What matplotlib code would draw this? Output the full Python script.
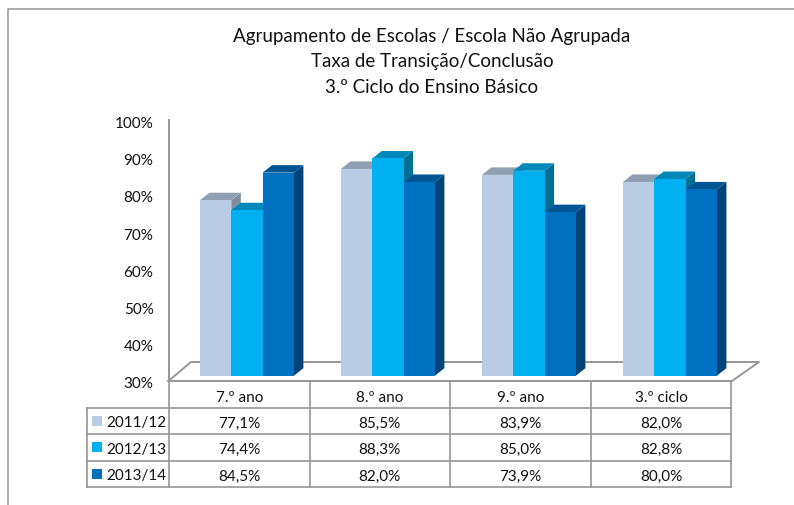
import numpy as np
import matplotlib
matplotlib.use("Agg")
import matplotlib.pyplot as plt
from matplotlib.patches import Polygon, Rectangle

plt.rcParams['font.family'] = ['Lato', 'DejaVu Sans']

categories = ["7.º ano", "8.º ano", "9.º ano", "3.º ciclo"]
years = ["2011/12", "2012/13", "2013/14"]
v_2011 = [77.1, 85.5, 83.9, 82.0]
v_2012 = [74.4, 88.3, 85.0, 82.8]
v_2013 = [84.5, 82.0, 73.9, 80.0]
series = [v_2011, v_2012, v_2013]
yticks = [30, 40, 50, 60, 70, 80, 90, 100]

front = ["#B8CCE4", "#00B0F0", "#0070C0"]
top = ["#8F9FB1", "#0088BA", "#005595"]
side = ["#7E8C9E", "#006F96", "#00447A"]
GREY = "#969696"
TXT = "#111111"

W, H = 794, 506
fig = plt.figure(figsize=(W / 100, H / 100), dpi=100)

# pixel layer for the frame, floor and table
px = fig.add_axes([0, 0, 1, 1])
px.set_xlim(0, W)
px.set_ylim(H, 0)
px.axis("off")

px.plot([7.5, 7.5, W], [H, 9.5, 9.5], color=GREY, lw=1.1, clip_on=False)

titles = ["Agrupamento de Escolas / Escola Não Agrupada",
          "Taxa de Transição/Conclusão",
          "3.º Ciclo do Ensino Básico"]
for s, y in zip(titles, [36, 61, 87]):
    px.text(432, y, s, ha="center", va="center", fontsize=13.5, color=TXT)

# floor and y axis
px.plot([168.5, 191, 759, 732, 168.5], [382, 363, 363, 382, 382], color=GREY, lw=1.4)
px.plot([168.5, 168.5], [121, 382], color=GREY, lw=1.4)

# table
cols = [169, 309.5, 450, 591, 731]
rows = [383, 408.5, 435, 461.5, 488]
for c in cols:
    px.plot([c, c], [rows[0], rows[-1]], color=GREY, lw=1.2)
for r in rows[1:]:
    px.plot([87, cols[-1]], [r, r], color=GREY, lw=1.2)
px.plot([87, 87], [rows[1], rows[-1]], color=GREY, lw=1.2)

for i, cat in enumerate(categories):
    xc = (cols[i] + cols[i + 1]) / 2
    px.text(xc, (rows[0] + rows[1]) / 2 + 2, cat, ha="center", va="center",
            fontsize=11, color=TXT)
    for j in range(3):
        px.text(xc, (rows[j + 1] + rows[j + 2]) / 2 + 2,
                f"{series[j][i]:.1f}%".replace(".", ","), ha="center", va="center",
                fontsize=11, color=TXT)

for j, yr in enumerate(years):
    yc = (rows[j + 1] + rows[j + 2]) / 2
    px.add_patch(Rectangle((92, yc - 5), 10, 10, color=front[j], lw=0))
    px.text(106.5, yc + 1.5, yr, ha="left", va="center", fontsize=11, color=TXT)

# bars, x = category index, y = percent on the bar front plane
ax = fig.add_axes([200 / W, (H - 376.7) / H, 1, 260.8 / H], facecolor="none")
ax.axis("off")
ax.set_ylim(30, 100)
PITCH = 141.0
ax.set_xlim(0, W / PITCH)
BW = 31.3 / PITCH
DX = 9.5 / PITCH
DY = 7.5 * 70 / 260.8

for i in range(len(categories)):
    for j in range(3):
        x0 = i + j * BW
        x1 = x0 + BW
        v = series[j][i]
        ax.add_patch(Polygon([(x1, 30), (x1 + DX, 30 + DY), (x1 + DX, v + DY), (x1, v)],
                             color=side[j], lw=0, zorder=2 + j))
        ax.add_patch(Polygon([(x0, v), (x0 + DX, v + DY), (x1 + DX, v + DY), (x1, v)],
                             color=top[j], lw=0, zorder=2 + j))
        ax.add_patch(Rectangle((x0, 30), BW, v - 30, color=front[j], lw=0, zorder=2 + j))

for t in yticks:
    y = 384 - (t - 30) * 259.7 / 70
    px.text(153.5, y, f"{t}%", ha="right", va="center", fontsize=11, color=TXT)

fig.savefig("out.png", dpi=100)
